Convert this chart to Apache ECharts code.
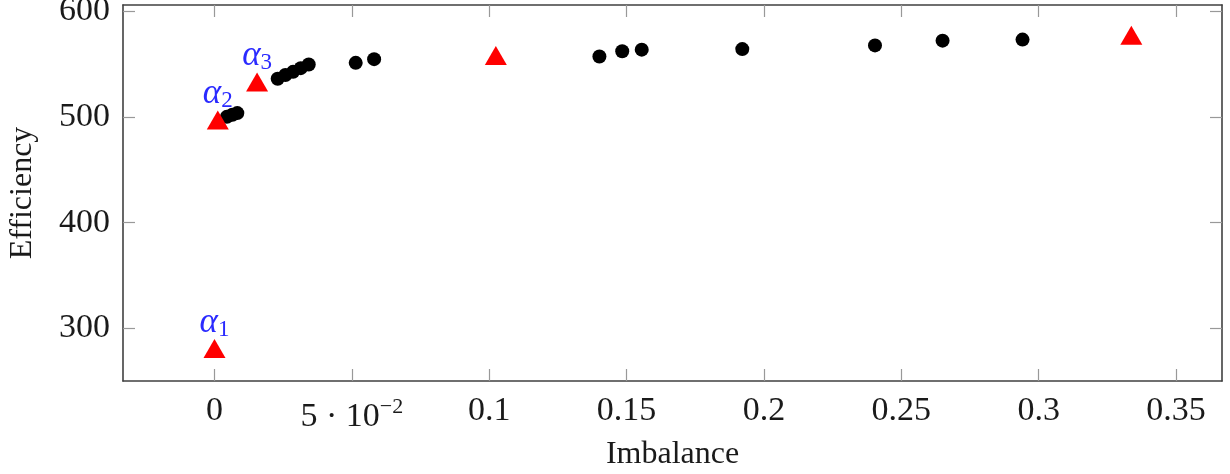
<!DOCTYPE html>
<html>
	<head>
		<meta charset="utf-8">
		<title>ECharts</title>
		<script src="https://cdn.jsdelivr.net/npm/echarts@6/dist/echarts.min.js" type="text/javascript" charset="utf-8"></script>
	</head>
	<body style="margin:0;background:#fff">
		<div id="main" style="width: 1230px;height:474px;"></div>
		<script type="text/javascript">
			// tick values
			var xTicks = [0, 0.05, 0.1, 0.15, 0.2, 0.25, 0.3, 0.35];
			var yTicks = [300, 400, 500, 600];

			// black dots (Imbalance, Efficiency)
			var dotX = [0.0045, 0.0065, 0.0083, 0.0230, 0.0258, 0.0286, 0.0314, 0.0343, 0.0514, 0.0581,
				0.1401, 0.1484, 0.1555, 0.1921, 0.2404, 0.2650, 0.2941];
			var dotY = [500, 502, 503.5, 536, 539.5, 542.5, 546, 549.5, 551, 554.5,
				557, 562, 563.5, 564, 567.5, 572, 573];

			// red triangles and their labels
			var triX = [0, 0.0012, 0.0155, 0.1024, 0.3337];
			var triY = [281, 497, 533, 558, 577];
			var triNames = ['1', '2', '3', '', ''];

			var myChart = echarts.init(document.getElementById('main'));

			var font = 'Liberation Serif';
			var txt = '#1a1a1a';
			var axisLine = { show: true, onZero: false, lineStyle: { color: '#404040', width: 1.6 } };
			var tick = { show: true, inside: true, length: 12, lineStyle: { color: '#999', width: 1.2 } };

			var dots = dotX.map(function (x, i) { return [x, dotY[i]]; });
			var tris = triX.map(function (x, i) {
				var item = { value: [x, triY[i]] };
				if (triNames[i]) {
					item.label = {
						show: true,
						position: 'top',
						distance: -2,
						formatter: '{a|α}{s|' + triNames[i] + '}',
						rich: {
							a: { fontFamily: font, fontStyle: 'italic', fontSize: 35, color: '#2a2aff' },
							s: { fontFamily: font, fontSize: 23, color: '#2a2aff', padding: [14, 0, 0, 0] }
						}
					};
				}
				return item;
			});

			var option = {
				animation: false,
				grid: { left: 123, right: 8, top: 5, bottom: 93, outerBoundsMode: 'none', containLabel: false },
				xAxis: [{
					type: 'value',
					min: -0.0333,
					max: 0.3667,
					name: 'Imbalance',
					nameLocation: 'middle',
					nameGap: 54,
					nameTextStyle: { fontFamily: font, fontSize: 32, color: txt },
					axisLine: axisLine,
					axisTick: Object.assign({ customValues: xTicks }, tick),
					splitLine: { show: false },
					axisLabel: {
						customValues: xTicks,
						margin: 13,
						fontFamily: font,
						fontSize: 34,
						color: txt,
						formatter: function (v) {
							if (Math.abs(v - 0.05) < 1e-9) return '{m|5 · 10}{s|−2}';
							return String(+v.toFixed(2));
						},
						rich: {
							m: { fontFamily: font, fontSize: 34, color: txt, padding: [6, 0, 0, 0] },
							s: { fontFamily: font, fontSize: 22, color: txt, padding: [0, 0, 14, 0] }
						}
					}
				}, {
					type: 'value',
					position: 'top',
					min: -0.0333,
					max: 0.3667,
					axisLine: axisLine,
					axisTick: Object.assign({ customValues: xTicks }, tick),
					axisLabel: { show: false },
					splitLine: { show: false }
				}],
				yAxis: [{
					type: 'value',
					min: 250.3,
					max: 605.7,
					name: 'Efficiency',
					nameLocation: 'middle',
					nameGap: 84,
					nameTextStyle: { fontFamily: font, fontSize: 32, color: txt },
					axisLine: axisLine,
					axisTick: Object.assign({ customValues: yTicks }, tick),
					splitLine: { show: false },
					axisLabel: {
						customValues: yTicks,
						margin: 13,
						fontFamily: font,
						fontSize: 34,
						color: txt
					}
				}, {
					type: 'value',
					position: 'right',
					min: 250.3,
					max: 605.7,
					axisLine: axisLine,
					axisTick: Object.assign({ customValues: yTicks }, tick),
					axisLabel: { show: false },
					splitLine: { show: false }
				}],
				series: [{
					type: 'scatter',
					data: dots,
					symbol: 'circle',
					symbolSize: 14,
					itemStyle: { color: '#000', opacity: 1 }
				}, {
					type: 'scatter',
					data: tris,
					symbol: 'triangle',
					symbolSize: [22, 19],
					itemStyle: { color: '#ff0000', opacity: 1 }
				}]
			};
			myChart.setOption(option);
		</script>
	</body>
</html>
